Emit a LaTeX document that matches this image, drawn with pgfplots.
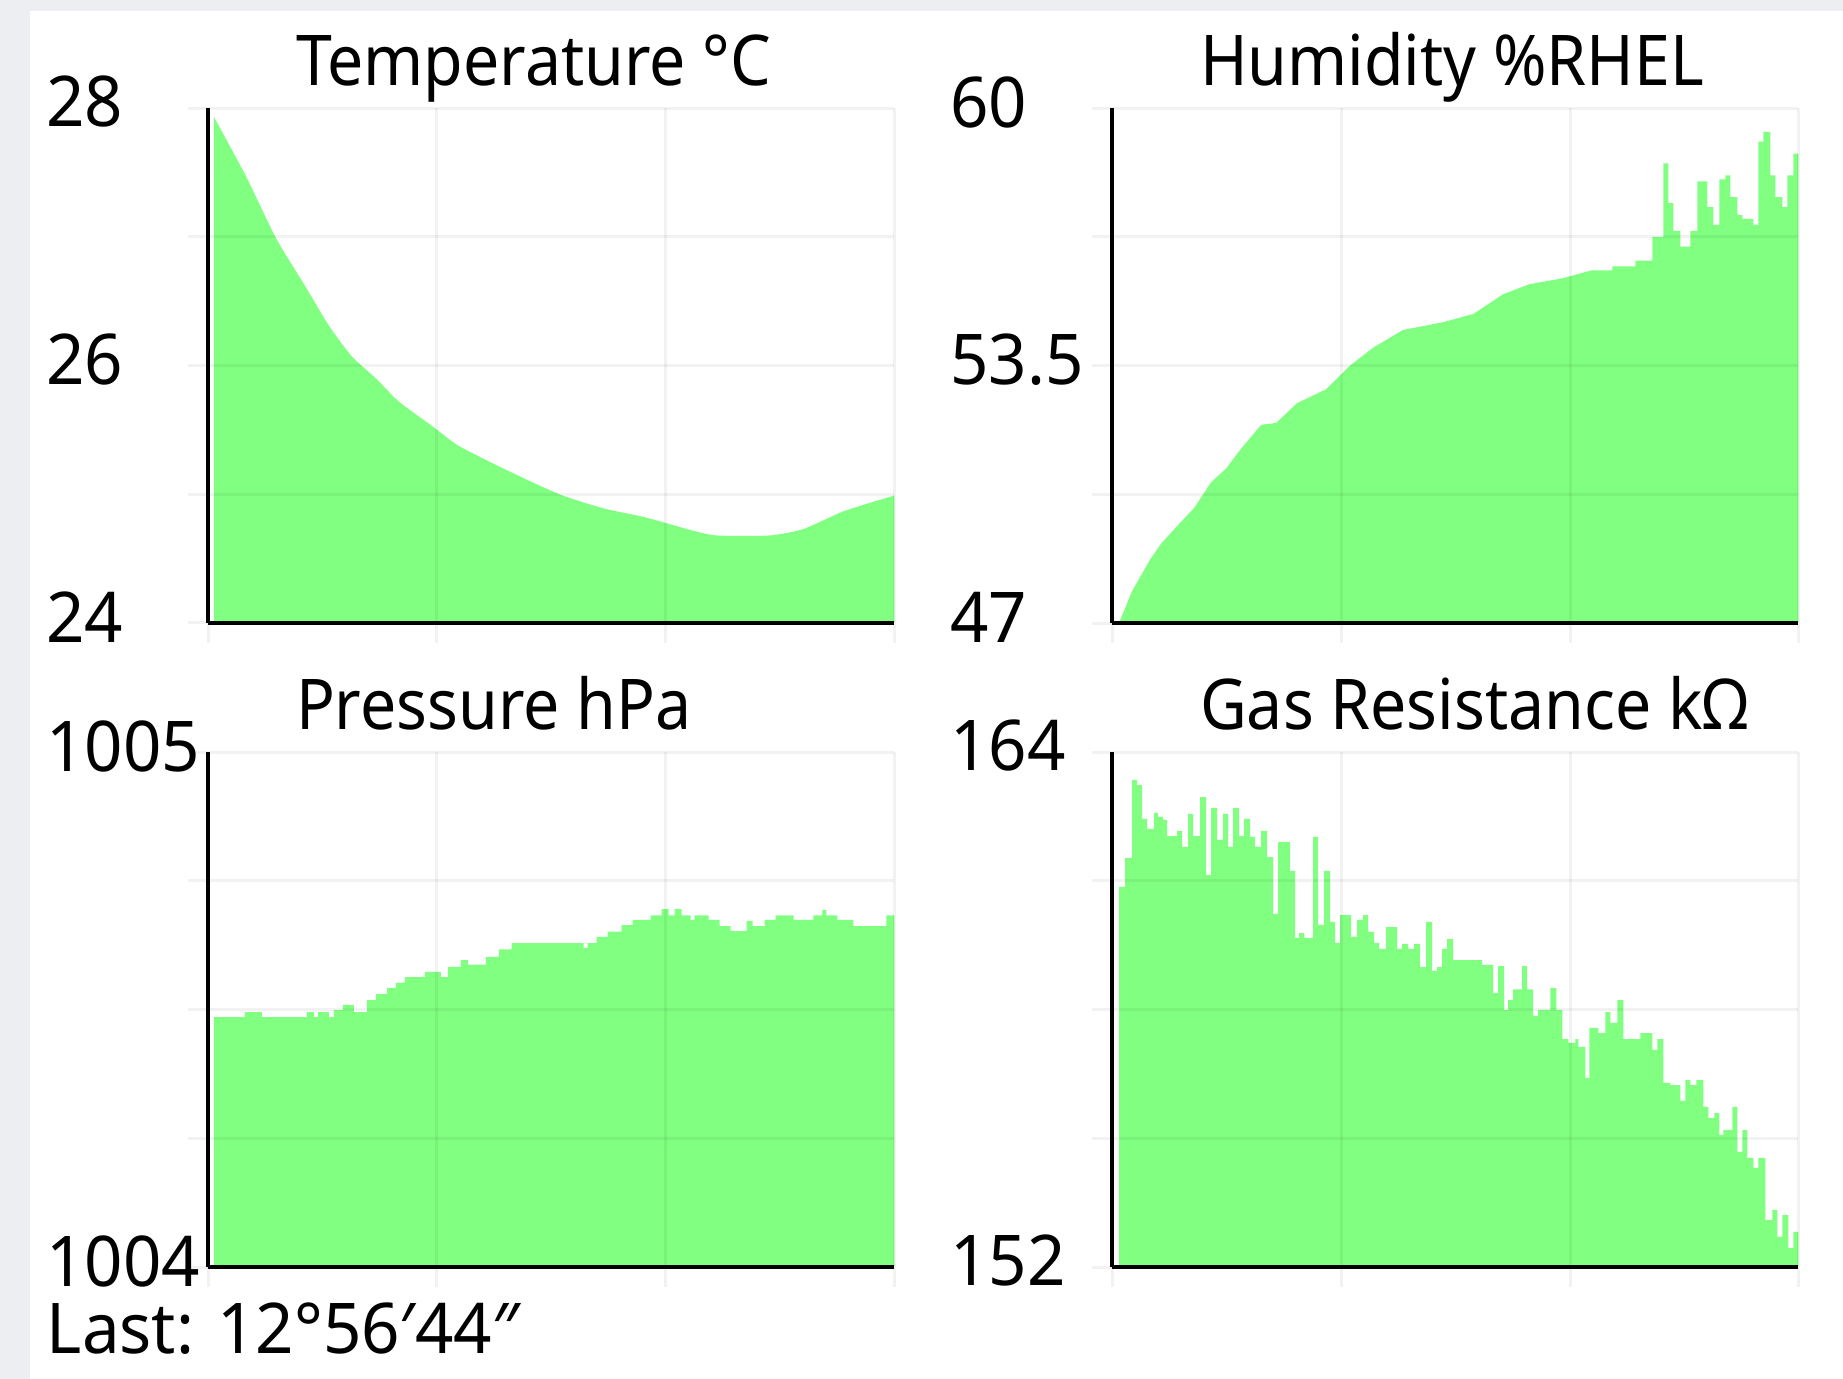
\documentclass[border=0pt]{standalone}
\usepackage{fontspec}
\setmainfont{Noto Sans}[FakeStretch=0.92]
\newfontfamily\tickfont{Noto Sans}[FakeStretch=0.96]
\usepackage{pgfplots}
\pgfplotsset{compat=1.18}
\definecolor{fillgreen}{RGB}{128,255,128}
\definecolor{bggray}{RGB}{236,238,242}
\newcommand{\lbl}{\fontsize{17.5}{21}\selectfont}
\pgfplotsset{
  panel/.style={
    scale only axis, width=171.6pt, height=128.75pt,
    axis lines=left, axis line style={-, line width=1pt, black},
    axis on top, enlargelimits=false, clip=true,
    grid=major, major grid style={line width=0.75pt, black, opacity=0.05},
    tick align=outside, major tick length=5pt,
    tick style={line width=0.75pt, black, opacity=0.05},
    xticklabels={},
    tick label style={font=\tickfont\lbl},
    yticklabel style={anchor=west, xshift=-35.6pt, yshift=1.5pt, inner sep=0pt},
    every axis title/.style={at={(0,1)}, anchor=base west, xshift=21.8pt, yshift=5.75pt, inner sep=0pt, font=\lbl},
  },
  leftpanel/.style={panel, xmin=208, xmax=895, xtick={208,437,666,895}},
  rightpanel/.style={panel, xmin=1112, xmax=1798, xtick={1112,1341,1570,1798}},
}
\begin{document}
\begin{tikzpicture}
\fill[bggray] (0,0) rectangle (460.75pt,-344.75pt);
\fill[white] (7.5pt,-2.75pt) rectangle (460.75pt,-344.75pt);

% Temperature
\begin{axis}[leftpanel, at={(52pt,-155.75pt)}, anchor=south west,
  ymin=24, ymax=28, ytick={24,25,26,27,28}, yticklabels={24,,26,,28},
  title={Temperature °C}]
\addplot[fill=fillgreen, draw=none, smooth, tension=0.4] coordinates {
(214,27.93) (246,27.47) (276,26.99) (305,26.62) (329,26.31) (352,26.07)
(376,25.90) (399,25.72) (434,25.52) (458,25.38) (493,25.24) (528,25.11) (563,24.99)
(604,24.89) (646,24.82) (692,24.72) (717,24.68) (770,24.68) (804,24.73) (845,24.87)
(895,24.99)} \closedcycle;
\end{axis}

% Humidity
\begin{axis}[rightpanel, at={(278pt,-155.75pt)}, anchor=south west,
  ymin=47, ymax=60, ytick={47,50.25,53.5,56.75,60}, yticklabels={47,,53.5,,60},
  title={Humidity \%RHEL}]
\addplot[fill=fillgreen, draw=none] coordinates {
(1119,47) (1132,47.8) (1150,48.6) (1161,49.0) (1179,49.5) (1194,49.9) (1211,50.55)
(1226,50.9) (1241,51.4) (1261,52.0) (1276,52.05) (1297,52.55) (1326,52.9) (1350,53.5)
(1373,53.95) (1403,54.4) (1414,54.45) (1444,54.6) (1473,54.8) (1503,55.3) (1529,55.55)
(1562,55.7) (1591,55.9) (1612,55.9)
(1612,56.0) (1635,56.0) (1635,56.15) (1652,56.15) (1652,56.75) (1663,56.75)
(1663,58.6) (1668,58.6) (1668,57.6) (1673,57.6) (1673,56.9) (1680,56.9)
(1680,56.5) (1690,56.5) (1690,56.9) (1697,56.9) (1697,58.15) (1707,58.15)
(1707,57.5) (1713,57.5) (1713,57.05) (1719,57.05) (1719,58.2) (1725,58.2)
(1725,58.3) (1730,58.3) (1730,57.75) (1737,57.75) (1737,57.3) (1742,57.3)
(1742,57.2) (1753,57.2) (1753,57.05) (1758,57.05) (1758,59.15) (1763,59.15)
(1763,59.4) (1770,59.4) (1770,58.3) (1775,58.3) (1775,57.75) (1782,57.75)
(1782,57.5) (1787,57.5) (1787,58.3) (1793,58.3) (1793,58.85) (1798,58.85) (1798,47)};
\end{axis}

% Pressure
\begin{axis}[leftpanel, at={(52pt,-316.75pt)}, anchor=south west,
  ymin=1004, ymax=1005, ytick={1004,1004.25,1004.5,1004.75,1005}, yticklabels={1004,,,,1005},
  title={Pressure hPa}]
\addplot[const plot, fill=fillgreen, draw=none] coordinates {
(214,1004) (214,1004.485) (245,1004.495) (262,1004.485) (307,1004.495) (314,1004.485)
(318,1004.495) (329,1004.485) (334,1004.499) (343,1004.509) (354,1004.495) (367,1004.518)
(376,1004.530) (387,1004.542) (396,1004.552) (405,1004.563) (425,1004.573) (441,1004.563)
(448,1004.583) (461,1004.596) (468,1004.587) (486,1004.602) (499,1004.617) (512,1004.629)
(584,1004.619) (588,1004.629) (597,1004.641) (608,1004.651) (622,1004.664) (633,1004.674)
(651,1004.683) (662,1004.695) (669,1004.683) (675,1004.695) (682,1004.683) (691,1004.674)
(695,1004.683) (709,1004.674) (720,1004.662) (731,1004.652) (747,1004.672) (753,1004.662)
(765,1004.674) (776,1004.683) (794,1004.674) (814,1004.683) (823,1004.693) (827,1004.683)
(838,1004.674) (854,1004.662) (887,1004.683) (895,1004.683) (895,1004)};
\end{axis}

% Gas resistance
\begin{axis}[rightpanel, at={(278pt,-316.75pt)}, anchor=south west,
  ymin=152, ymax=164, ytick={152,155,158,161,164}, yticklabels={152,,,,164},
  title={Gas Resistance kΩ}]
\addplot[const plot, fill=fillgreen, draw=none] coordinates {
(1119,152) (1119,160.86) (1125,161.53) (1132,163.35) (1137,163.23) (1142,162.44) (1147,162.21)
(1154,162.58) (1158,162.49) (1163,162.42) (1167,162.04) (1177,162.16) (1182,161.79)
(1188,162.56) (1193,162.04) (1200,162.95) (1206,161.13) (1211,162.70) (1217,161.95)
(1223,162.56) (1228,161.79) (1233,162.70) (1239,162.04) (1244,162.44) (1250,162.02)
(1255,161.79) (1261,162.16) (1267,161.55) (1273,160.23) (1278,161.90) (1290,161.23)
(1295,159.67) (1299,159.78) (1304,159.67) (1313,162.02) (1318,159.97) (1324,161.23)
(1330,160.04) (1335,159.55) (1340,160.20) (1351,159.69) (1357,160.09) (1363,160.20)
(1368,159.81) (1374,159.55) (1379,159.41) (1386,159.92) (1397,159.41) (1402,159.53)
(1408,159.41) (1414,159.53) (1420,158.99) (1426,160.04) (1432,158.90) (1437,158.99)
(1442,159.41) (1447,159.64) (1453,159.15) (1482,159.04) (1493,158.38) (1498,159.01)
(1504,157.99) (1508,158.22) (1513,158.47) (1522,159.01) (1527,158.47) (1533,157.85)
(1538,157.99) (1550,158.50) (1556,157.99) (1562,157.31) (1568,157.22) (1575,157.31)
(1578,157.13) (1585,156.40) (1589,157.57) (1598,157.45) (1605,157.94) (1610,157.69)
(1617,158.22) (1623,157.31) (1640,157.45) (1652,157.06) (1657,157.31) (1663,156.29)
(1670,156.24) (1680,155.87) (1685,156.36) (1690,156.24) (1696,156.36) (1703,155.73)
(1708,155.47) (1714,155.59) (1719,155.08) (1723,155.19) (1732,155.73) (1737,154.68)
(1742,155.19) (1747,154.54) (1753,154.31) (1758,154.54) (1765,153.09) (1772,153.33)
(1777,152.70) (1782,153.21) (1788,152.44) (1793,152.82) (1798,152.82) (1798,152)};
\end{axis}

\node[anchor=base west, inner sep=0pt, font=\tickfont\lbl] at (11.5pt,-338.25pt) {Last: 12°56′44″};
\pgfresetboundingbox
\useasboundingbox (0,0) rectangle (460.75pt,-344.75pt);
\end{tikzpicture}
\end{document}
